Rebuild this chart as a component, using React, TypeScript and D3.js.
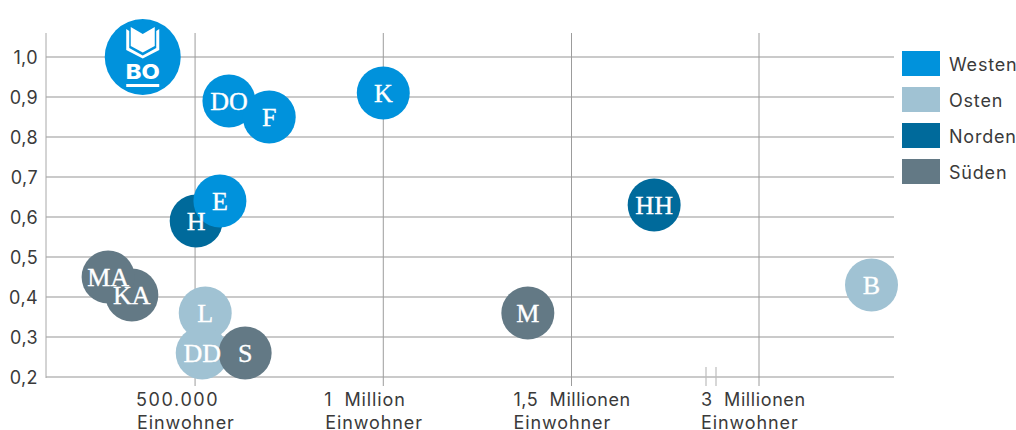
import React from "react";
import * as d3 from "d3";

const names = ["H", "E", "DO", "F", "K", "BO", "HH", "KA", "MA", "L", "DD", "S", "M", "B"];
const population = [503000, 566000, 590000, 697000, 1000000, 361000, 1720000, 332000, 269000, 527000, 519000, 633000, 1384000, 3300000];
const shares = [0.59, 0.64, 0.89, 0.85, 0.91, 1.0, 0.63, 0.405, 0.45, 0.36, 0.26, 0.26, 0.36, 0.43];
const regions = ["Norden", "Westen", "Westen", "Westen", "Westen", "Westen", "Norden", "Süden", "Süden", "Osten", "Osten", "Süden", "Süden", "Osten"];
const legendRegions = ["Westen", "Osten", "Norden", "Süden"];
const regionColors = ["#0092dc", "#a0c2d3", "#006a9b", "#637985"];
const yTicks = [0.2, 0.3, 0.4, 0.5, 0.6, 0.7, 0.8, 0.9, 1.0];
const xTicks = [500000, 1000000, 1500000, 3000000];
const xLabels = ["500.000", "1  Million", "1,5  Millionen", "3  Millionen"];
const xKnots = [104000, 1500000, 1858000, 2886000, 3000000, 3360000];
const breakValues = [1858000, 2886000];

const FONT = "Inter, 'Open Sans', sans-serif";
const SERIF = "'Liberation Serif', serif";
const TEXT = "#3a3a3a";

export default function App() {
  const x = d3.scaleLinear<number>().domain(xKnots).range([46, 571.5, 706, 716, 759, 894]);
  const y = d3.scaleLinear().domain([0.2, 1.0]).range([377, 57]);
  const color = d3.scaleOrdinal<string, string>().domain(legendRegions).range(regionColors);
  return (
    <svg width={1016} height={430} style={{ position: "absolute", left: 0, top: 0, background: "#fff" }}>
      {yTicks.map((t) => (
        <g key={t}>
          <line x1={46} x2={894} y1={y(t)} y2={y(t)} stroke="#b9b9b9" strokeWidth={1.4} />
          <text x={38} y={y(t) + 6.5} textAnchor="end" fontFamily={FONT} fontSize={18} letterSpacing={0.4} fill={TEXT}>
            {d3.format(".1f")(t).replace(".", ",")}
          </text>
        </g>
      ))}
      <line x1={46} x2={46} y1={33} y2={378} stroke="#a8a8a8" strokeWidth={1} />
      {xTicks.map((t, i) => (
        <g key={t}>
          <line x1={x(t)} x2={x(t)} y1={33} y2={386} stroke="#9c9c9c" strokeWidth={1} />
          <text fontFamily={FONT} fontSize={18} fill={TEXT} style={{ whiteSpace: "pre" }} letterSpacing={0.9}>
            <tspan x={x(t) - [59, 59, 58, 58][i]} y={406} letterSpacing={[1.6, 0.9, 0.55, 0.6][i]}>{xLabels[i]}</tspan>
            <tspan x={x(t) - 58} y={428.5}>Einwohner</tspan>
          </text>
        </g>
      ))}
      {breakValues.map((v) => (
        <line key={v} x1={x(v)} x2={x(v)} y1={367} y2={386} stroke="#bdbdbd" strokeWidth={1.2} />
      ))}
      {names.map((n, i) => (
        <circle key={n} cx={x(population[i])} cy={y(shares[i])} r={n === "BO" ? 38 : 26.5} fill={color(regions[i])} />
      ))}
      {names.map((n, i) => {
        const cx = x(population[i]);
        const cy = y(shares[i]);
        return n === "BO" ? (
          <g key={n} transform={`translate(${cx},${cy})`} fill="#fff">
            <path d="M-16.5 -28 L-13.5 -26 L-13.5 -9 L0 -1.5 L13.5 -9 L13.5 -26 L16.5 -28 L16.5 -7 L0 1.5 L-16.5 -7 Z" />
            <path d="M-12 -30 L0 -23 L12 -30 L12 -11 L0 -4.5 L-12 -11 Z" />
            <text x={0} y={22} fontFamily={FONT} fontWeight={800} fontSize={20} textAnchor="middle" textLength={34} lengthAdjust="spacingAndGlyphs">BO</text>
            <rect x={-16.5} y={27} width={33} height={3} />
          </g>
        ) : null;
      })}
      {names.map((n, i) =>
        n === "BO" ? null : (
          <text key={n} x={x(population[i])} y={y(shares[i]) + 8.5} textAnchor="middle" fontFamily={SERIF} fontSize={26} fill="#fff" stroke="#fff" strokeWidth={0.35}>{n}</text>
        )
      )}
      {legendRegions.map((r, i) => (
        <g key={r}>
          <rect x={902} y={51 + i * 36} width={38} height={25} fill={color(r)} />
          <text x={949} y={70.5 + i * 36} fontFamily={FONT} fontSize={18} fill={TEXT} letterSpacing={0.8}>{r}</text>
        </g>
      ))}
    </svg>
  );
}
